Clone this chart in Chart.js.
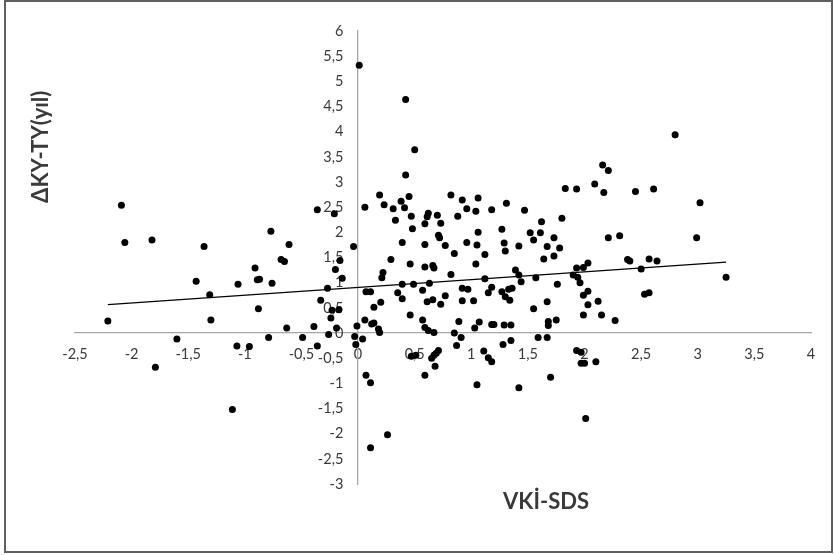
<!DOCTYPE html>
<html>
<head>
<meta charset="utf-8">
<script src="https://cdn.jsdelivr.net/npm/chart.js@4.4.1/dist/chart.umd.min.js"></script>
<style>
  html, body { margin: 0; padding: 0; background: #fff; }
  #wrap { position: relative; width: 835px; height: 555px; }
  #frame { position: absolute; left: 4px; top: 0px; width: 829px; height: 553px; box-sizing: border-box; border: 2px solid #5f5f5f; pointer-events: none; }
  canvas { position: absolute; left: 0; top: 0; }
</style>
</head>
<body>
<div id="wrap">
  <canvas id="c" width="835" height="555"></canvas>
  <div id="frame"></div>
</div>
<script>
// ---- Data ----
const vkiSDS = [
  -2.21, -2.09, -2.06, -1.82, -1.79, -1.60, -1.43, -1.36, -1.31, -1.30,
  -1.11, -1.07, -1.06, -0.96, -0.91, -0.89, -0.87, -0.88, -0.79, -0.77,
  -0.76, -0.68, -0.65, -0.63, -0.61, -0.49, -0.39, -0.36, -0.36, -0.33,
  -0.27, -0.26, -0.24, -0.23, -0.21, -0.20, -0.19, -0.17, -0.16, -0.14,
  -0.04, -0.03, -0.02, -0.01,
  0.01, 0.04, 0.06, 0.07, 0.11, 0.06, 0.07, 0.11, 0.11, 0.12,
  0.14, 0.14, 0.18, 0.19, 0.19, 0.20, 0.21, 0.22, 0.23, 0.26,
  0.29, 0.31, 0.33, 0.35, 0.38, 0.39, 0.39, 0.39, 0.41, 0.42,
  0.42, 0.45, 0.46, 0.46, 0.47, 0.47, 0.48, 0.49, 0.50, 0.51,
  0.57, 0.57, 0.59, 0.59, 0.59, 0.59, 0.59, 0.61, 0.61, 0.62,
  0.62, 0.63, 0.65, 0.66, 0.67, 0.66, 0.67, 0.67, 0.68, 0.69,
  0.70, 0.71, 0.71, 0.72, 0.73, 0.73, 0.77, 0.77, 0.82, 0.82,
  0.85, 0.85, 0.87, 0.88, 0.89, 0.91, 0.92, 0.92, 0.92, 0.96,
  0.96, 0.97, 1.02, 1.03, 1.04, 1.04, 1.05, 1.05, 1.06, 1.06,
  1.07, 1.11, 1.12, 1.12, 1.15, 1.15, 1.18, 1.18, 1.18, 1.18,
  1.20, 1.27, 1.27, 1.28, 1.29, 1.29, 1.30, 1.30, 1.31, 1.33,
  1.34, 1.35, 1.35, 1.36, 1.39, 1.42, 1.42, 1.42, 1.44, 1.47,
  1.52, 1.55, 1.55, 1.57, 1.59, 1.61, 1.62, 1.64, 1.67, 1.67,
  1.67, 1.68, 1.68, 1.70, 1.73, 1.73, 1.75, 1.76, 1.78, 1.80,
  1.83, 1.90, 1.93, 1.93, 1.93, 1.94, 1.96, 1.97, 1.97, 1.99,
  1.99, 1.99, 2.00, 2.01, 2.03, 2.03, 2.03, 2.09, 2.10, 2.12,
  2.15, 2.16, 2.17, 2.21, 2.21, 2.27, 2.31, 2.38, 2.40, 2.45,
  2.50, 2.53, 2.57, 2.57, 2.61, 2.64, 2.80, 2.99, 3.02, 3.25
];
const kyTyYil = [
  0.24, 2.54, 1.80, 1.85, -0.68, -0.12, 1.03, 1.72, 0.76, 0.26,
  -1.52, -0.26, 0.97, -0.27, 1.29, 1.06, 1.07, 0.48, -0.09, 2.02,
  0.99, 1.46, 1.42, 0.10, 1.76, -0.09, 0.13, 2.45, -0.26, 0.65,
  0.89, -0.03, 0.30, 0.45, 2.37, 1.26, 0.10, 0.46, 1.44, 1.09,
  1.72, -0.07, -0.23, 0.14,
  5.32, -0.12, 2.50, 0.82, 0.82, 0.26, -0.84, -0.99, -2.28, 0.18,
  0.20, 0.51, 0.08, 0.01, 2.74, 0.61, 1.10, 1.20, 2.55, -2.02,
  1.46, 2.47, 2.24, 0.80, 2.62, 1.80, 0.97, 0.68, 2.49, 4.64,
  3.14, 2.71, 1.37, 0.36, 2.32, -0.46, 2.07, 0.97, 3.64, -0.44,
  0.85, 0.26, 1.76, 1.31, 2.17, 0.11, -0.84, 2.31, 0.62, 2.38,
  0.05, 0.99, -0.50, 1.34, 1.29, 0.66, 0.01, -0.44, -0.66, -0.40,
  2.34, -0.35, 1.94, 1.89, 2.18, 0.57, 1.74, 0.74, 2.74, 1.16,
  1.58, 0.00, -0.25, 2.32, 0.23, -0.09, 2.64, 0.89, 0.64, 2.47,
  1.80, 0.87, 0.64, 0.10, 2.42, 1.37, 1.75, -1.03, 2.68, 2.00,
  0.22, -0.36, 1.56, 1.08, 0.80, -0.49, 2.45, 0.91, 0.17, -0.57,
  0.17, 2.06, 0.82, -0.23, 1.79, 0.16, 1.63, 0.72, 2.58, 0.87,
  0.65, 0.16, -0.15, 0.89, 1.25, 1.73, 1.15, -1.09, 1.02, 2.44,
  1.99, 1.85, 0.48, 1.10, -0.09, 1.99, 2.21, 1.47, 1.72, 0.62,
  -0.09, 0.23, 0.15, -0.88, 1.89, 1.53, 0.26, 0.97, 1.69, 2.28,
  2.87, 1.15, 2.86, 1.29, -0.35, 1.11, 1.00, -0.38, -0.60, 1.30,
  0.75, 0.36, -0.60, -1.70, 1.39, 0.83, 0.56, 2.96, -0.57, 0.63,
  0.36, 3.34, 2.79, 3.23, 1.89, 0.25, 1.93, 1.46, 1.43, 2.81,
  1.27, 0.77, 0.80, 1.47, 2.86, 1.43, 3.94, 1.89, 2.59, 1.11
];
const xAxisTitle = 'VKİ-SDS';
const yAxisTitle = 'ΔKY-TY(yıl)';
const xRange = [-2.5, 4];
const yRange = [-3, 6];
const tickStep = 0.5;

// ---- Build datasets ----
const points = vkiSDS.map((x, i) => ({ x: x, y: kyTyYil[i] }));

// Linear least-squares trend line spanning the data's x range
const n = vkiSDS.length;
const mx = vkiSDS.reduce((a, b) => a + b, 0) / n;
const my = kyTyYil.reduce((a, b) => a + b, 0) / n;
let sxy = 0, sxx = 0;
for (let i = 0; i < n; i++) { sxy += (vkiSDS[i] - mx) * (kyTyYil[i] - my); sxx += (vkiSDS[i] - mx) ** 2; }
const slope = sxy / sxx;
const intercept = my - slope * mx;
const xMin = Math.min(...vkiSDS), xMax = Math.max(...vkiSDS);
const trend = [xMin, xMax].map(x => ({ x: x, y: intercept + slope * x }));

const fmt = v => String(Math.round(v * 10) / 10).replace('.', ',');
const tickFont = { family: 'Lato', size: 14.5 };
const tickColor = '#3a3a3a';

const axisTitles = {
  id: 'axisTitles',
  afterDraw(chart) {
    const ctx = chart.ctx;
    const xs = chart.scales.x, ys = chart.scales.y;
    ctx.save();
    ctx.fillStyle = '#3a3a3a';
    ctx.font = 'bold 22px Lato';
    ctx.textAlign = 'center';
    ctx.textBaseline = 'middle';
    ctx.fillText(xAxisTitle, xs.getPixelForValue(1.66), ys.getPixelForValue(-3.35));
    ctx.translate(41, ys.getPixelForValue(3.7));
    ctx.rotate(-Math.PI / 2);
    ctx.fillText(yAxisTitle, 0, 0);
    ctx.restore();
  }
};

new Chart(document.getElementById('c'), {
  type: 'scatter',
  data: {
    datasets: [
      {
        label: 'data',
        data: points,
        backgroundColor: '#000',
        borderColor: '#000',
        pointRadius: 3.5,
        pointHoverRadius: 3.5,
        pointBorderWidth: 0
      },
      {
        label: 'trend',
        type: 'line',
        data: trend,
        borderColor: '#000',
        borderWidth: 1.2,
        pointRadius: 0,
        fill: false
      }
    ]
  },
  options: {
    responsive: false,
    animation: false,
    events: [],
    layout: { padding: { left: 75, right: 24, top: 31, bottom: 71 } },
    plugins: { legend: { display: false }, tooltip: { enabled: false }, title: { display: false } },
    scales: {
      x: {
        type: 'linear',
        position: { y: 0 },
        min: xRange[0], max: xRange[1],
        grid: { display: false, drawTicks: false },
        border: { display: true, color: '#a6a6a6', width: 1.3 },
        ticks: {
          stepSize: tickStep,
          padding: 13,
          color: tickColor,
          font: tickFont,
          callback: v => fmt(v),
          maxRotation: 0,
          autoSkip: false
        }
      },
      y: {
        type: 'linear',
        position: { x: 0 },
        min: yRange[0], max: yRange[1],
        grid: { display: false, drawTicks: false },
        border: { display: true, color: '#a6a6a6', width: 1.3 },
        ticks: { display: false, stepSize: tickStep }
      },
      yLabels: {
        type: 'linear',
        axis: 'y',
        position: { x: -0.13 },
        min: yRange[0], max: yRange[1],
        grid: { display: false, drawTicks: false },
        border: { display: false },
        ticks: {
          stepSize: tickStep,
          padding: 0,
          color: tickColor,
          font: tickFont,
          callback: v => fmt(v),
          autoSkip: false
        }
      }
    }
  },
  plugins: [axisTitles]
});
</script>
</body>
</html>
